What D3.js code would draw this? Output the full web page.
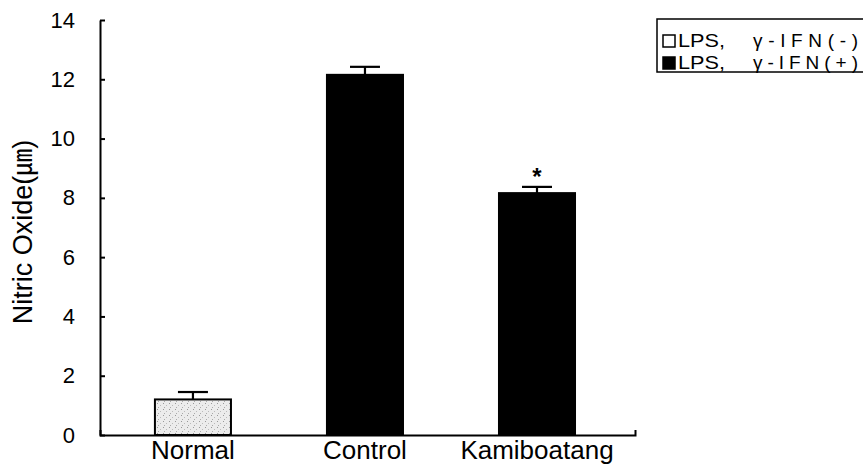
<!DOCTYPE html>
<html>
<head>
<meta charset="utf-8">
<script src="https://cdn.jsdelivr.net/npm/d3@7"></script>
<style>
  html, body { margin: 0; padding: 0; background: #fff; }
  svg text { font-family: "Liberation Sans", Arial, "Noto Sans CJK KR", sans-serif; fill: #000; }
</style>
</head>
<body>
<svg id="chart" width="863" height="471"></svg>
<script>
const categories = ["Normal", "Control", "Kamiboatang"];
const values = [1.2, 12.15, 8.16];
const errors = [0.25, 0.27, 0.21];
const groups = ["neg", "pos", "pos"];
const significance = ["", "", "*"];
const legendLabels = ["LPS, γ-IFN(-)", "LPS, γ-IFN(+)"];
const legendKeys = ["neg", "pos"];
const yTicks = [0, 2, 4, 6, 8, 10, 12, 14];
const yTitle = "Nitric Oxide(㎛)";

const fillFor = { neg: "#e4e4e4", pos: "#000" };

const svg = d3.select("#chart");

const y = d3.scaleLinear().domain([0, 14]).range([435, 20]);
const x = d3.scaleBand().domain(categories).range([100, 635])
  .paddingInner(0.558).paddingOuter(0.334).align(0.478);

// stipple pattern for the grey bar
const defs = svg.append("defs");
const pat = defs.append("pattern").attr("id", "stip").attr("patternUnits", "userSpaceOnUse")
  .attr("width", 6).attr("height", 6);
pat.append("rect").attr("width", 6).attr("height", 6).attr("fill", "#ececec");
pat.append("rect").attr("x", 1).attr("y", 1).attr("width", 1).attr("height", 1).attr("fill", "#999");
pat.append("rect").attr("x", 4).attr("y", 3).attr("width", 1).attr("height", 1).attr("fill", "#bbb");
pat.append("rect").attr("x", 2).attr("y", 5).attr("width", 1).attr("height", 1).attr("fill", "#aaa");

const data = categories.map((c, i) => ({ c, v: values[i], e: errors[i], g: groups[i], s: significance[i] }));

svg.append("g").selectAll("rect").data(data).join("rect")
  .attr("x", d => x(d.c))
  .attr("y", d => y(d.v))
  .attr("width", x.bandwidth())
  .attr("height", d => y(0) - y(d.v))
  .attr("fill", d => d.g === "neg" ? "url(#stip)" : fillFor[d.g])
  .attr("stroke", "#000")
  .attr("stroke-width", 2);

// error bars
const eb = svg.append("g").attr("stroke", "#000").attr("stroke-width", 2.2);
data.forEach(d => {
  const cx = x(d.c) + x.bandwidth() / 2;
  eb.append("line").attr("x1", cx).attr("x2", cx).attr("y1", y(d.v)).attr("y2", y(d.v + d.e));
  eb.append("line").attr("x1", cx - 15).attr("x2", cx + 15).attr("y1", y(d.v + d.e)).attr("y2", y(d.v + d.e));
});

// significance marks
svg.append("g").selectAll("text").data(data.filter(d => d.s)).join("text")
  .attr("x", d => x(d.c) + x.bandwidth() / 2)
  .attr("y", d => y(d.v + d.e) - 2)
  .attr("text-anchor", "middle")
  .attr("font-size", 24)
  .attr("font-weight", "bold")
  .text(d => d.s);

// y axis
const yAxis = d3.axisLeft(y).tickValues(yTicks).tickSizeInner(-5).tickSizeOuter(0).tickPadding(25)
  .tickFormat(d3.format("d"));
const gy = svg.append("g").attr("transform", "translate(100,0)").call(yAxis);
gy.selectAll("path, line").attr("stroke", "#000").attr("stroke-width", 2);
gy.selectAll("text").attr("font-size", 22).attr("font-family", "\"Liberation Sans\", Arial, sans-serif");

// x axis
const xAxis = d3.axisBottom(x).tickSizeInner(0).tickSizeOuter(-5).tickPadding(6);
const gx = svg.append("g").attr("transform", "translate(0,435)").call(xAxis);
gx.selectAll("path").attr("stroke", "#000").attr("stroke-width", 2);
gx.selectAll("text").attr("font-size", 26).attr("font-family", "\"Liberation Sans\", Arial, sans-serif");

// y title
svg.append("text")
  .attr("transform", "translate(32,232) rotate(-90)")
  .attr("text-anchor", "middle")
  .attr("font-size", 27)
  .text(yTitle);

// legend
const lg = svg.append("g");
lg.append("rect").attr("x", 657).attr("y", 19).attr("width", 230).attr("height", 53)
  .attr("fill", "none").attr("stroke", "#000").attr("stroke-width", 1.5);
lg.selectAll("rect.key").data(legendKeys).join("rect")
  .attr("class", "key")
  .attr("x", 663)
  .attr("y", (d, i) => 35 + i * 22)
  .attr("width", 12).attr("height", 12)
  .attr("fill", d => d === "neg" ? "#fff" : "#000")
  .attr("stroke", "#000").attr("stroke-width", 1.5);
const items = lg.selectAll("g.item").data(legendKeys).join("g").attr("class", "item");
items.append("text")
  .attr("x", 678)
  .attr("y", (d, i) => 47 + i * 22)
  .attr("font-size", 19)
  .attr("textLength", 47)
  .attr("lengthAdjust", "spacingAndGlyphs")
  .text((d, i) => legendLabels[i].split(", ")[0] + ",");
items.append("text")
  .attr("x", 753)
  .attr("y", (d, i) => 47 + i * 22)
  .attr("font-size", 19)
  .attr("textLength", 105)
  .attr("lengthAdjust", "spacing")
  .text((d, i) => legendLabels[i].split(", ")[1]);
</script>
</body>
</html>
